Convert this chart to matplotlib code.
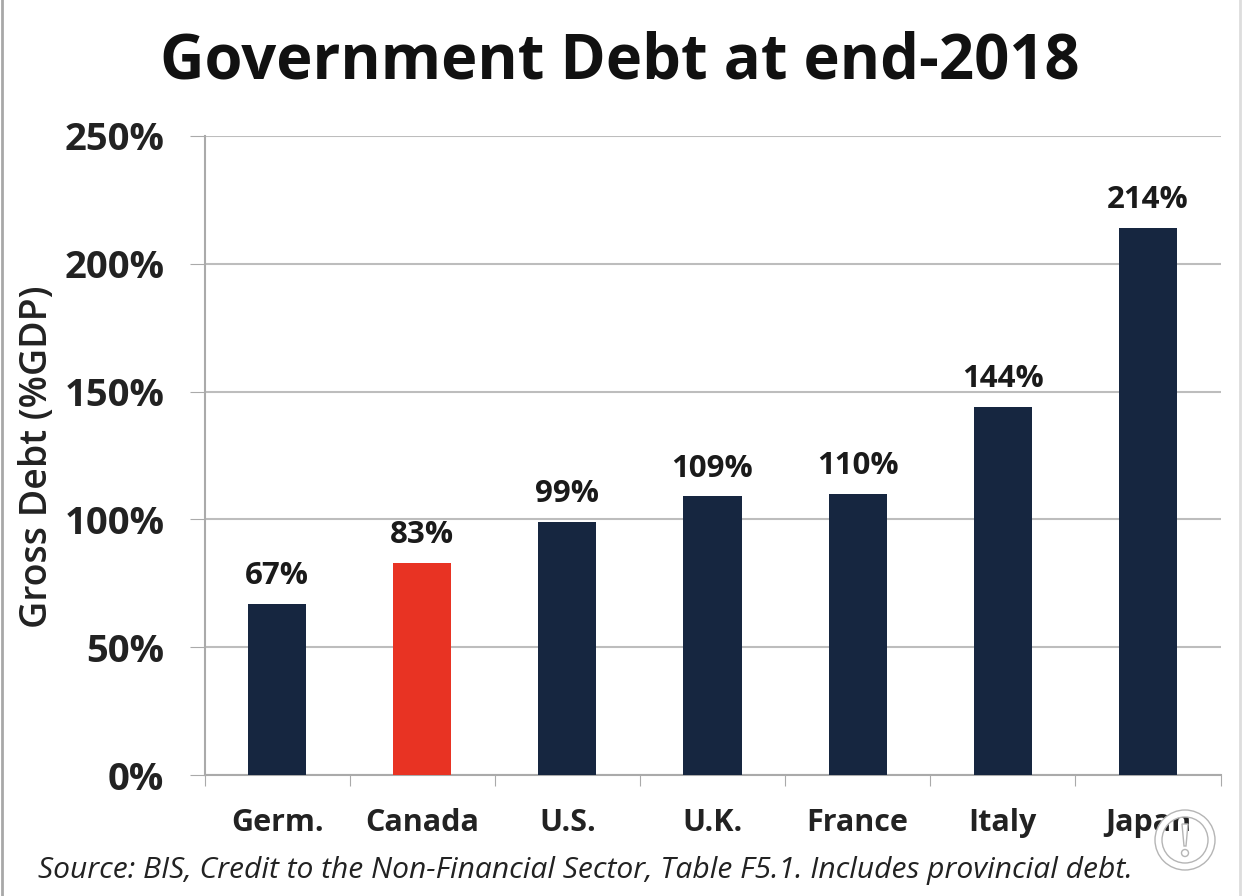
import matplotlib
matplotlib.use("Agg")
import matplotlib.pyplot as plt
from matplotlib.patches import Circle, Polygon, Wedge

countries = ["Germ.", "Canada", "U.S.", "U.K.", "France", "Italy", "Japan"]
debt = [67, 83, 99, 109, 110, 144, 214]
bar_colors = ["#162640", "#e83323", "#162640", "#162640", "#162640", "#162640", "#162640"]
yticks = [0, 50, 100, 150, 200, 250]

W, H = 1242, 896
plt.rcParams["font.family"] = ["Open Sans", "DejaVu Sans"]

fig = plt.figure(figsize=(W / 100, H / 100), dpi=100)
ax = fig.add_axes([204.5 / W, 1 - 775 / H, (1220.5 - 204.5) / W, (775 - 136) / H])

ax.bar(range(len(countries)), debt, width=0.4, color=bar_colors, zorder=3)
for i, v in enumerate(debt):
    ax.text(i, v + 5, f"{v}%", ha="center", va="bottom", fontsize=22.5, fontweight="bold", color="#1a1a1a")

ax.set_xlim(-0.5, 6.5)
ax.set_ylim(0, 250)
ax.set_yticks(yticks)
ax.set_yticklabels([f"{t}%" for t in yticks], fontsize=27.5, fontweight="bold", color="#222222")
ax.set_xticks([i - 0.5 for i in range(8)])
ax.set_xticklabels([])
ax.set_xticks(range(7), minor=True)
ax.set_xticklabels(countries, minor=True, fontsize=22, fontweight="bold", color="#222222")
ax.tick_params(axis="x", which="minor", length=0, pad=24)
ax.tick_params(axis="x", which="major", length=8, color="#aaaaaa", direction="out")
ax.tick_params(axis="y", length=11, color="#aaaaaa", pad=18)
ax.grid(axis="y", color="#bdbdbd", linewidth=1.5, zorder=0)
ax.set_ylabel("Gross Debt (%GDP)", fontsize=27, fontweight="semibold", color="#222222", va="center")
ax.yaxis.set_label_coords((37 - 204.5) / 1016, 0.498)
for side in ["top", "right"]:
    ax.spines[side].set_visible(False)
for side in ["left", "bottom"]:
    ax.spines[side].set_color("#aaaaaa")
    ax.spines[side].set_linewidth(1.5)

fig.text(620 / W, 1 - 62 / H, "Government Debt at end-2018", ha="center", va="center",
         fontsize=44.3, fontweight="bold", color="#111111")
fig.text(38 / W, 1 - 870 / H, "Source: BIS, Credit to the Non-Financial Sector, Table F5.1. Includes provincial debt.",
         ha="left", va="center", fontsize=21.6, style="italic", color="#222222")

# grey frame of the screenshot and the round badge in the corner, in pixel coordinates
over = fig.add_axes([0, 0, 1, 1], facecolor="none")
over.set_xlim(0, W)
over.set_ylim(H, 0)
over.axis("off")
over.plot([1.5, 1.5], [0, H], color="#a8a8a8", linewidth=2)
over.plot([1239.5, 1239.5], [0, H], color="#dddddd", linewidth=2)
over.add_patch(Wedge((1185, 840), 30, 0, 360, width=7, facecolor="white", edgecolor="none"))
over.add_patch(Circle((1185, 840), 30, facecolor="none", edgecolor="#b5b5b5", linewidth=1))
over.add_patch(Circle((1185, 840), 23, facecolor="none", edgecolor="#b5b5b5", linewidth=1))
over.add_patch(Polygon([(1182, 824), (1188, 824), (1186, 846), (1184, 846)], facecolor="white",
                       edgecolor="#b5b5b5", linewidth=1))
over.add_patch(Circle((1185, 853), 3.5, facecolor="white", edgecolor="#b5b5b5", linewidth=1))

fig.savefig("out.png", dpi=100, facecolor="white")
